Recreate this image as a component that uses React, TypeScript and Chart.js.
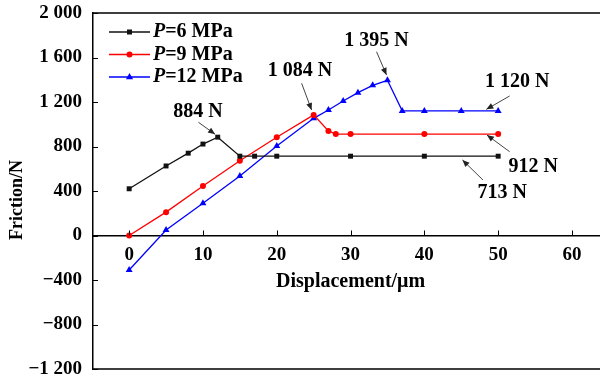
import React, { useEffect, useRef } from "react";
import { Chart, registerables } from "chart.js";

Chart.register(...registerables);

// ---- data ----
const xP6 = [0, 5, 8, 10, 12, 15, 17, 20, 30, 40, 50];
const yP6 = [420, 625, 740, 822, 884, 713, 713, 713, 713, 713, 713];
const xP9 = [0, 5, 10, 15, 20, 25, 27, 28, 30, 40, 50];
const yP9 = [0, 210, 445, 672, 883, 1084, 940, 912, 912, 912, 912];
const xP12 = [0, 5, 10, 15, 20, 25, 27, 29, 31, 33, 35, 37, 40, 45, 50];
const yP12 = [-310, 50, 290, 535, 805, 1053, 1128, 1209, 1284, 1350, 1395, 1120, 1120, 1120, 1120];

const pressures = ["6", "9", "12"];
const seriesColors = ["#111111", "#ff0000", "#0000ff"];
const seriesMarkers = ["rect", "circle", "triangle"];

const yTicks = [-1200, -800, -400, 0, 400, 800, 1200, 1600, 2000];
const xTicks = [0, 10, 20, 30, 40, 50, 60];

// annotations (data coordinates)
const annLabels = ["884 N", "1 084 N", "1 395 N", "1 120 N", "912 N", "713 N"];
const annTextX = [9.34, 23.14, 33.52, 52.57, 54.76, 50.54];
const annTextY = [1110, 1479, 1751, 1382, 618, 385];
const annFromX = [9.38, 23.37, 33.52, 51.56, 51.56, 47.94];
const annFromY = [1018, 1368, 1652, 1254, 753, 499];
const annToX = [11.64, 24.72, 34.87, 48.4, 48.48, 45.16];
const annToY = [910, 1128, 1443, 1134, 903, 679];

const FONT = '"Liberation Serif", "Times New Roman", serif';

function fmt(v: number): string {
  const s = Math.abs(v).toString();
  const body = s.length > 3 ? s.slice(0, -3) + " " + s.slice(-3) : s;
  return (v < 0 ? "\u2212" : "") + body;
}

function drawMarker(ctx: CanvasRenderingContext2D, style: string, x: number, y: number, color: string) {
  ctx.save();
  ctx.fillStyle = color;
  ctx.beginPath();
  if (style === "rect") {
    ctx.rect(x - 2.5, y - 2.5, 5, 5);
  } else if (style === "circle") {
    ctx.arc(x, y, 3, 0, Math.PI * 2);
  } else {
    ctx.moveTo(x, y - 4);
    ctx.lineTo(x + 3.6, y + 2.2);
    ctx.lineTo(x - 3.6, y + 2.2);
    ctx.closePath();
  }
  ctx.fill();
  ctx.restore();
}

const overlay = {
  id: "overlay",
  afterDraw(chart: any) {
    const { ctx, chartArea: ca } = chart;
    const xs = chart.scales.x;
    const ys = chart.scales.y;
    ctx.save();
    // frame top & bottom
    ctx.strokeStyle = "#000";
    ctx.lineWidth = 1.5;
    ctx.beginPath();
    ctx.moveTo(ca.left, ca.top);
    ctx.lineTo(ca.right, ca.top);
    ctx.moveTo(ca.left, ca.bottom);
    ctx.lineTo(ca.right, ca.bottom);
    ctx.stroke();
    // inward ticks
    ctx.lineWidth = 1;
    ctx.beginPath();
    yTicks.forEach((v) => {
      const py = Math.round(ys.getPixelForValue(v)) + 0.5;
      ctx.moveTo(ca.left, py);
      ctx.lineTo(ca.left + 5, py);
    });
    const y0 = ys.getPixelForValue(0);
    xTicks.forEach((v) => {
      const px = Math.round(xs.getPixelForValue(v)) + 0.5;
      ctx.moveTo(px, y0);
      ctx.lineTo(px, y0 - 5);
    });
    ctx.stroke();

    // axis titles
    ctx.fillStyle = "#000";
    ctx.font = `bold 20px ${FONT}`;
    ctx.textAlign = "center";
    ctx.textBaseline = "middle";
    ctx.fillText("Displacement/\u03bcm", xs.getPixelForValue(30), y0 + 46);
    ctx.save();
    ctx.translate(17, (ca.top + ca.bottom) / 2 + 9);
    ctx.rotate(-Math.PI / 2);
    ctx.font = `bold 18px ${FONT}`;
    ctx.fillText("Friction/N", 0, 0);
    ctx.restore();

    // legend
    pressures.forEach((p, i) => {
      const ly = ca.top + 19 + i * 22.5;
      const lx = ca.left + 16;
      ctx.strokeStyle = seriesColors[i];
      ctx.lineWidth = 1.3;
      ctx.beginPath();
      ctx.moveTo(lx, ly);
      ctx.lineTo(lx + 41, ly);
      ctx.stroke();
      drawMarker(ctx, seriesMarkers[i], lx + 20.5, ly, seriesColors[i]);
      ctx.fillStyle = "#000";
      ctx.textAlign = "left";
      ctx.textBaseline = "middle";
      ctx.font = `italic bold 20px ${FONT}`;
      ctx.fillText("P", lx + 44, ly);
      const w = ctx.measureText("P").width;
      ctx.font = `bold 20px ${FONT}`;
      ctx.fillText(`=${p} MPa`, lx + 44 + w, ly);
    });

    // annotations
    annLabels.forEach((t, i) => {
      const tx = xs.getPixelForValue(annTextX[i]);
      const ty = ys.getPixelForValue(annTextY[i]);
      ctx.fillStyle = "#000";
      ctx.font = `bold 20px ${FONT}`;
      ctx.textAlign = "center";
      ctx.textBaseline = "middle";
      ctx.fillText(t, tx, ty);
      const fx = xs.getPixelForValue(annFromX[i]);
      const fy = ys.getPixelForValue(annFromY[i]);
      const ex = xs.getPixelForValue(annToX[i]);
      const ey = ys.getPixelForValue(annToY[i]);
      const ang = Math.atan2(ey - fy, ex - fx);
      ctx.strokeStyle = "#444";
      ctx.fillStyle = "#222";
      ctx.lineWidth = 1;
      ctx.beginPath();
      ctx.moveTo(fx, fy);
      ctx.lineTo(ex, ey);
      ctx.stroke();
      const hl = 7, hw = 3;
      ctx.beginPath();
      ctx.moveTo(ex, ey);
      ctx.lineTo(ex - hl * Math.cos(ang) + hw * Math.sin(ang), ey - hl * Math.sin(ang) - hw * Math.cos(ang));
      ctx.lineTo(ex - hl * Math.cos(ang) - hw * Math.sin(ang), ey - hl * Math.sin(ang) + hw * Math.cos(ang));
      ctx.closePath();
      ctx.fill();
    });
    ctx.restore();
  },
};

function toPoints(xv: number[], yv: number[]) {
  return xv.map((x, i) => ({ x, y: yv[i] }));
}

export default function App() {
  const ref = useRef<HTMLCanvasElement | null>(null);
  useEffect(() => {
    if (!ref.current) return;
    const seriesX = [xP6, xP9, xP12];
    const seriesY = [yP6, yP9, yP12];
    const chart = new Chart(ref.current, {
      type: "line",
      data: {
        datasets: pressures.map((p, i) => ({
          label: `P=${p} MPa`,
          data: toPoints(seriesX[i], seriesY[i]),
          borderColor: seriesColors[i],
          backgroundColor: seriesColors[i],
          borderWidth: 1.3,
          pointStyle: seriesMarkers[i] as any,
          pointRadius: i === 0 ? 3.5 : i === 1 ? 3 : 4,
          pointBorderWidth: 0,
          tension: 0,
        })),
      },
      options: {
        animation: false,
        responsive: false,
        devicePixelRatio: 1,
        layout: { autoPadding: false, padding: { left: 0, right: 0, top: 13, bottom: 9 } },
        plugins: { legend: { display: false }, tooltip: { enabled: false } },
        scales: {
          x: {
            type: "linear",
            position: { y: 0 } as any,
            min: -4.9,
            max: 63.8,
            afterBuildTicks: (s: any) => {
              s.ticks = xTicks.map((v) => ({ value: v }));
            },
            afterFit: (s: any) => {
              s.paddingLeft = 0;
              s.paddingRight = 0;
            },
            grid: { display: false, drawTicks: false },
            border: { display: true, color: "#000", width: 1.5 },
            ticks: {
              padding: 8,
              color: "#000",
              font: { family: FONT, size: 19, weight: "bold" },
              callback: (v: any) => String(v),
              maxRotation: 0,
            },
          },
          y: {
            type: "linear",
            min: -1200,
            max: 2000,
            afterBuildTicks: (s: any) => {
              s.ticks = yTicks.map((v) => ({ value: v }));
            },
            afterFit: (s: any) => {
              s.width = 93;
              s.paddingTop = 0;
              s.paddingBottom = 0;
            },
            grid: { display: false, drawTicks: false },
            border: { display: true, color: "#000", width: 1.5 },
            ticks: {
              padding: 11,
              color: "#000",
              font: { family: FONT, size: 19, weight: "bold" },
              callback: (v: any) => fmt(Number(v)),
            },
          },
        },
      },
      plugins: [overlay],
    });
    return () => chart.destroy();
  }, []);
  return (
    <div style={{ position: "absolute", left: 0, top: 0, width: 600, height: 378, background: "#fff" }}>
      <canvas ref={ref} width={600} height={378} style={{ width: 600, height: 378 }} />
    </div>
  );
}
